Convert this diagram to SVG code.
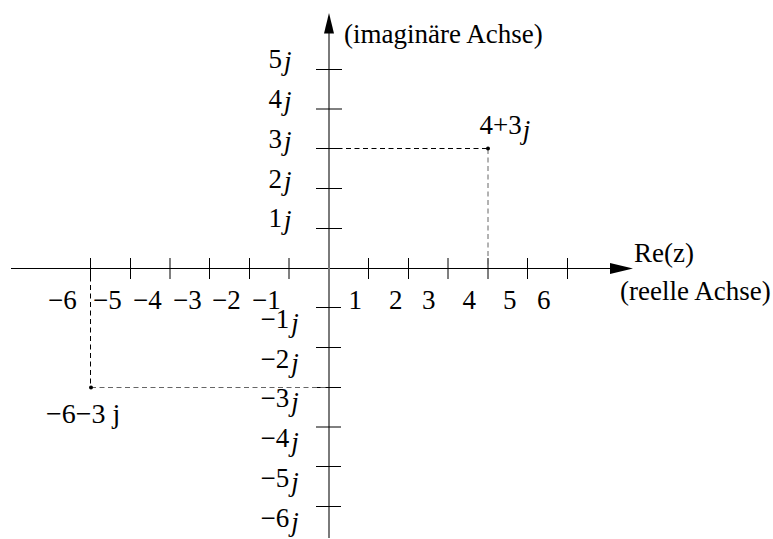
<svg xmlns="http://www.w3.org/2000/svg" width="773" height="539" viewBox="0 0 773 539">
<style>
text{font-family:"Liberation Serif","Times New Roman",serif;font-size:27px;fill:#000}
.j{font-style:italic}
.tick{stroke:#000;stroke-width:1;fill:none}
.dash{stroke-dasharray:5 3.5;stroke-width:1;fill:none}
</style>
<rect width="773" height="539" fill="#fff"/>
<g id="axes">
<line x1="11" y1="268.5" x2="612" y2="268.5" stroke="#000" stroke-width="1"/>
<polygon points="633,268.5 610,263 610,274" fill="#000"/>
<line x1="329" y1="30" x2="329" y2="538" stroke="#7a7a7a" stroke-width="2"/>
<polygon points="329,13 324,33.5 334,33.5" fill="#000"/>
</g>
<g id="ticks" class="tick">
<path d="M90.5 258V279M130.5 258V279M170 258V279M209.5 258V279M249.5 258V279M289 258V279M368.5 258V279M408.5 258V279M448 258V279M488 258V279M527.5 258V279M567.5 258V279"/>
<path d="M316 69.5H342M316 109H342M316 148.5H342M316 188.5H342M316 228.5H342M316 307.5H341M316 347.5H341M316 387.5H341M316 427H341M316 466.5H341M316 506.5H341"/>
</g>
<g id="connectors">
<line class="dash" x1="329" y1="148.5" x2="488" y2="148.5" stroke="#000"/>
<line class="dash" x1="488" y1="149" x2="488" y2="268" stroke="#666"/>
<line class="dash" x1="90.5" y1="268" x2="90.5" y2="387.5" stroke="#000"/>
<line class="dash" x1="91" y1="387.5" x2="329" y2="387.5" stroke="#666"/>
</g>
<g id="points">
<circle cx="488" cy="148.5" r="2" fill="#000"/>
<circle cx="91" cy="387.5" r="2" fill="#000"/>
</g>
<g id="axis-titles">
<text x="344" y="43">(imaginäre Achse)</text>
<text x="634" y="262">Re(z)</text>
<text x="620" y="300">(reelle Achse)</text>
</g>
<g id="x-labels">
<text x="48" y="308.5">−6</text>
<text x="93" y="308.5">−5</text>
<text x="133" y="308.5">−4</text>
<text x="173" y="308.5">−3</text>
<text x="212" y="308.5">−2</text>
<text x="252" y="308.5">−1</text>
<text x="348.5" y="308.5">1</text>
<text x="389" y="308.5">2</text>
<text x="422" y="308.5">3</text>
<text x="462.5" y="308.5">4</text>
<text x="503" y="308.5">5</text>
<text x="537" y="308.5">6</text>
</g>
<g id="y-labels">
<text x="268.5" y="68">5<tspan class="j" dx="2" dy="2">j</tspan></text>
<text x="268.5" y="108">4<tspan class="j" dx="2" dy="2">j</tspan></text>
<text x="268.5" y="148">3<tspan class="j" dx="2" dy="2">j</tspan></text>
<text x="268.5" y="187.5">2<tspan class="j" dx="2" dy="2">j</tspan></text>
<text x="268.5" y="227">1<tspan class="j" dx="2" dy="2">j</tspan></text>
<text x="260.5" y="328">−1<tspan class="j" dx="2" dy="4">j</tspan></text>
<text x="260.5" y="367.5">−2<tspan class="j" dx="2" dy="4">j</tspan></text>
<text x="260.5" y="407">−3<tspan class="j" dx="2" dy="4">j</tspan></text>
<text x="260.5" y="447">−4<tspan class="j" dx="2" dy="4">j</tspan></text>
<text x="260.5" y="486.5">−5<tspan class="j" dx="2" dy="4">j</tspan></text>
<text x="260.5" y="526.5">−6<tspan class="j" dx="2" dy="4">j</tspan></text>
</g>
<g id="point-labels">
<text x="479.5" y="134">4+3<tspan class="j" dx="1" dy="5">j</tspan></text>
<text x="46" y="423" style="font-size:28px">−6−3 j</text>
</g>
</svg>
